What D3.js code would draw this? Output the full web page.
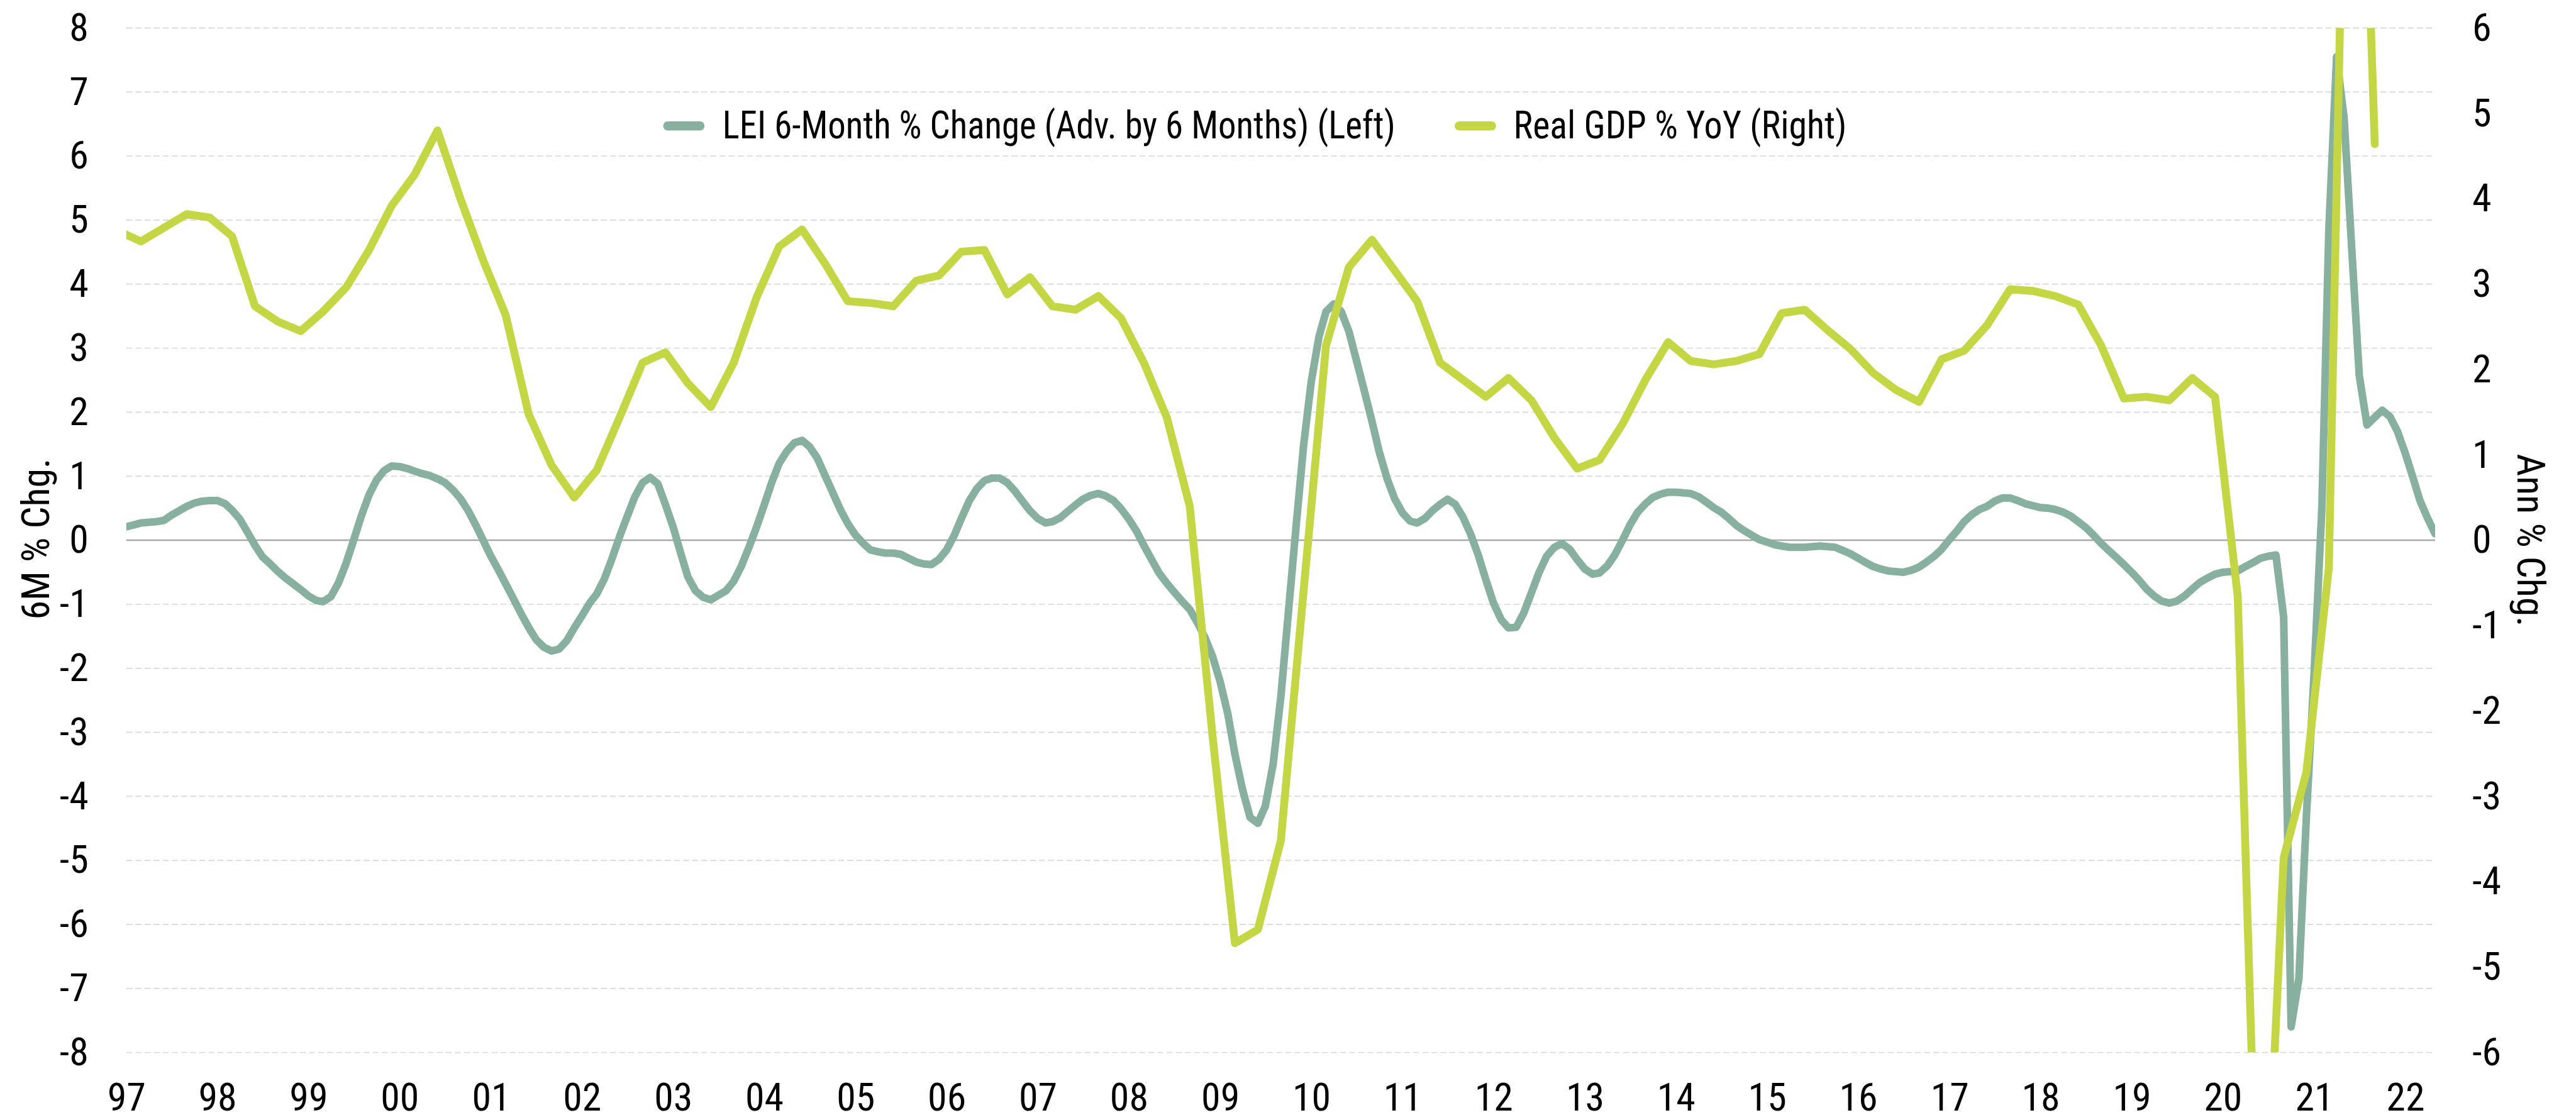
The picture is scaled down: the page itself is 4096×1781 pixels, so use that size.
<!DOCTYPE html>
<html>
<head>
<meta charset="utf-8">
<script src="https://cdn.jsdelivr.net/npm/d3@7"></script>
<style>
body{margin:0;background:#fff;overflow:hidden}
text{font-family:"Liberation Sans Narrow","Arial Narrow","Roboto Condensed",sans-serif;fill:#000}
</style>
</head>
<body>
<svg id="chart"></svg>
<script>
// LEI 6-month % change (adv. by 6 months), monthly from Jan 1997
var leiValues=[
0.21,0.24,0.27,0.28,0.29,0.31,0.39,0.46,0.53,0.58,0.61,0.62,
0.62,0.57,0.47,0.33,0.13,-0.08,-0.26,-0.37,-0.49,-0.59,-0.68,-0.77,
-0.87,-0.94,-0.96,-0.88,-0.67,-0.36,0.00,0.38,0.71,0.94,1.09,1.16,
1.15,1.12,1.08,1.04,1.01,0.96,0.90,0.79,0.65,0.47,0.24,0.00,
-0.25,-0.47,-0.68,-0.91,-1.14,-1.36,-1.55,-1.67,-1.73,-1.70,-1.57,-1.37,
-1.18,-0.98,-0.84,-0.60,-0.29,0.06,0.37,0.68,0.90,0.98,0.88,0.56,
0.21,-0.21,-0.57,-0.79,-0.89,-0.93,-0.86,-0.79,-0.64,-0.41,-0.11,0.20,
0.55,0.91,1.20,1.39,1.52,1.56,1.46,1.28,1.01,0.75,0.48,0.26,
0.08,-0.05,-0.15,-0.18,-0.20,-0.20,-0.22,-0.28,-0.34,-0.37,-0.38,-0.30,
-0.15,0.08,0.34,0.61,0.80,0.93,0.97,0.97,0.90,0.77,0.61,0.46,
0.34,0.27,0.29,0.35,0.45,0.55,0.64,0.70,0.73,0.69,0.62,0.49,
0.33,0.14,-0.08,-0.30,-0.51,-0.67,-0.81,-0.95,-1.08,-1.28,-1.52,-1.81,
-2.21,-2.72,-3.34,-3.90,-4.33,-4.42,-4.15,-3.50,-2.45,-1.14,0.21,1.47,
2.48,3.18,3.57,3.69,3.57,3.26,2.81,2.34,1.86,1.37,0.96,0.65,
0.43,0.30,0.27,0.34,0.46,0.56,0.64,0.56,0.36,0.10,-0.23,-0.61,
-0.98,-1.24,-1.37,-1.36,-1.14,-0.82,-0.51,-0.25,-0.11,-0.05,-0.14,-0.30,
-0.45,-0.53,-0.51,-0.40,-0.23,0.00,0.24,0.44,0.57,0.67,0.72,0.75,
0.75,0.74,0.73,0.68,0.60,0.51,0.44,0.34,0.23,0.15,0.08,0.01,
-0.03,-0.07,-0.09,-0.11,-0.11,-0.11,-0.10,-0.09,-0.10,-0.11,-0.16,-0.21,
-0.28,-0.35,-0.41,-0.45,-0.48,-0.49,-0.50,-0.47,-0.42,-0.34,-0.25,-0.14,
0.01,0.15,0.29,0.40,0.48,0.53,0.61,0.66,0.66,0.62,0.57,0.54,
0.51,0.50,0.48,0.44,0.38,0.29,0.20,0.08,-0.05,-0.16,-0.27,-0.38,
-0.50,-0.63,-0.76,-0.87,-0.95,-0.98,-0.95,-0.87,-0.76,-0.66,-0.59,-0.53,
-0.50,-0.49,-0.48,-0.41,-0.35,-0.28,-0.25,-0.23,-1.20,-7.60,-6.85,-4.32,
-2.08,0.50,4.84,7.55,6.60,4.54,2.57,1.80,1.92,2.03,1.93,1.70,
1.36,0.98,0.62,0.34,0.10]
// Real GDP % YoY, quarterly from Q4 1996
var gdpValues=[3.62,
3.50,3.66,3.82,3.78, 3.56,2.74,2.56,2.45, 2.68,2.96,3.40,3.92, 4.28,4.80,4.00,3.28,
2.64,1.48,0.88,0.50, 0.82,1.44,2.08,2.20, 1.84,1.56,2.08,2.84, 3.44,3.64,3.24,2.80,
2.78,2.74,3.04,3.10, 3.38,3.40,2.88,3.08, 2.74,2.70,2.86,2.60, 2.08,1.44,0.40,-2.28,
-4.72,-4.56,-3.52,-0.60, 2.28,3.20,3.52,3.16, 2.80,2.08,1.88,1.68, 1.90,1.64,1.20,0.84,
0.94,1.36,1.88,2.32, 2.10,2.06,2.10,2.18, 2.66,2.70,2.46,2.24, 1.96,1.76,1.62,2.12,
2.22,2.52,2.94,2.92, 2.86,2.76,2.28,1.66, 1.68,1.64,1.90,1.68, -0.66,-9.50,-3.72,-2.72,
-0.32,12.80,4.64]
var years=d3.range(1997,2023)
var leftTicks=d3.range(-8,9)
var rightTicks=d3.range(-6,7)
var seriesNames=['LEI 6-Month % Change (Adv. by 6 Months) (Left)','Real GDP % YoY (Right)']
var seriesColors=['#88b09f','#c5d644']

var W=4233,H=1841
var svg=d3.select('#chart')
.attr('width',4096)
.attr('height',1781)
.attr('viewBox','0 0 '+W+' '+H)
var plot={left:207,right:4002,top:46,bottom:1730}

var lei=leiValues.map((v,i)=>({date:new Date(1997,i,1),v:v}))
var gdp=gdpValues.map((v,i)=>({date:new Date(1996,9+i*3+2,1),v:v}))

var x=d3.scaleTime().domain([new Date(1997,0,1),new Date(2022,4,1)]).range([plot.left,plot.right])
var yL=d3.scaleLinear().domain([-8,8]).range([plot.bottom,plot.top])
var yR=d3.scaleLinear().domain([-6,6]).range([plot.bottom,plot.top])

// gridlines
svg.append('g').selectAll('line')
.data(leftTicks)
.enter()
.append('line')
.attr('x1',plot.left).attr('x2',plot.right)
.attr('y1',d=>yL(d)).attr('y2',d=>yL(d))
.attr('stroke',d=>d==0?'#a8a8a8':'#dcdcdc')
.attr('stroke-width',d=>d==0?2.5:2)
.attr('stroke-dasharray',d=>d==0?null:'10,5')

// axes
var fs=64
var axL=svg.append('g').attr('transform','translate('+plot.left+',0)')
.call(d3.axisLeft(yL).tickValues(leftTicks).tickSize(0).tickPadding(62).tickFormat(d=>String(d)))
var axR=svg.append('g').attr('transform','translate('+plot.right+',0)')
.call(d3.axisRight(yR).tickValues(rightTicks).tickSize(0).tickPadding(61).tickFormat(d=>String(d)))
var axB=svg.append('g').attr('transform','translate(0,'+plot.bottom+')')
.call(d3.axisBottom(x).tickValues(years.map(y=>new Date(y,0,1))).tickSize(0).tickFormat(d3.timeFormat('%y')))
axB.selectAll('text').attr('y',96).attr('dy',null)
;[axL,axR,axB].forEach(a=>{
	a.select('.domain').remove()
	a.attr('font-size',null).attr('font-family',null)
	a.selectAll('text').style('font-size',fs+'px').attr('fill','#000')
})

// axis titles
svg.append('text')
.attr('transform','translate(80,886) rotate(-90)')
.attr('text-anchor','middle')
.style('font-size',fs+'px')
.text('6M % Chg.')
svg.append('text')
.attr('transform','translate(4137,888) rotate(90)')
.attr('text-anchor','middle')
.style('font-size',fs+'px')
.text('Ann % Chg.')

// lines
svg.append('clipPath').attr('id','clip')
.append('rect')
.attr('x',plot.left).attr('y',plot.top)
.attr('width',plot.right-plot.left).attr('height',plot.bottom-plot.top)
var g=svg.append('g').attr('clip-path','url(#clip)')
var lineL=d3.line().x(d=>x(d.date)).y(d=>yL(d.v))
var lineR=d3.line().x(d=>x(d.date)).y(d=>yR(d.v))
g.append('path').datum(lei)
.attr('d',lineL)
.attr('fill','none')
.attr('stroke',seriesColors[0])
.attr('stroke-width',12.5)
.attr('stroke-linejoin','round')
.attr('stroke-linecap','round')
g.append('path').datum(gdp)
.attr('d',lineR)
.attr('fill','none')
.attr('stroke',seriesColors[1])
.attr('stroke-width',13)
.attr('stroke-linejoin','round')
.attr('stroke-linecap','round')

// legend
var legX=[1097,2398],legTextX=[1187,2487],legLen=[1106,548]
var leg=svg.append('g').selectAll('g')
.data(seriesNames)
.enter()
.append('g')
leg.append('line')
.attr('x1',(d,i)=>legX[i]).attr('x2',(d,i)=>legX[i]+53)
.attr('y1',207).attr('y2',207)
.attr('stroke',(d,i)=>seriesColors[i])
.attr('stroke-width',15)
.attr('stroke-linecap','round')
leg.append('text')
.attr('x',(d,i)=>legTextX[i])
.attr('y',227)
.attr('textLength',(d,i)=>legLen[i])
.attr('lengthAdjust','spacingAndGlyphs')
.style('font-size',fs+'px')
.text(d=>d)
</script>
</body>
</html>
